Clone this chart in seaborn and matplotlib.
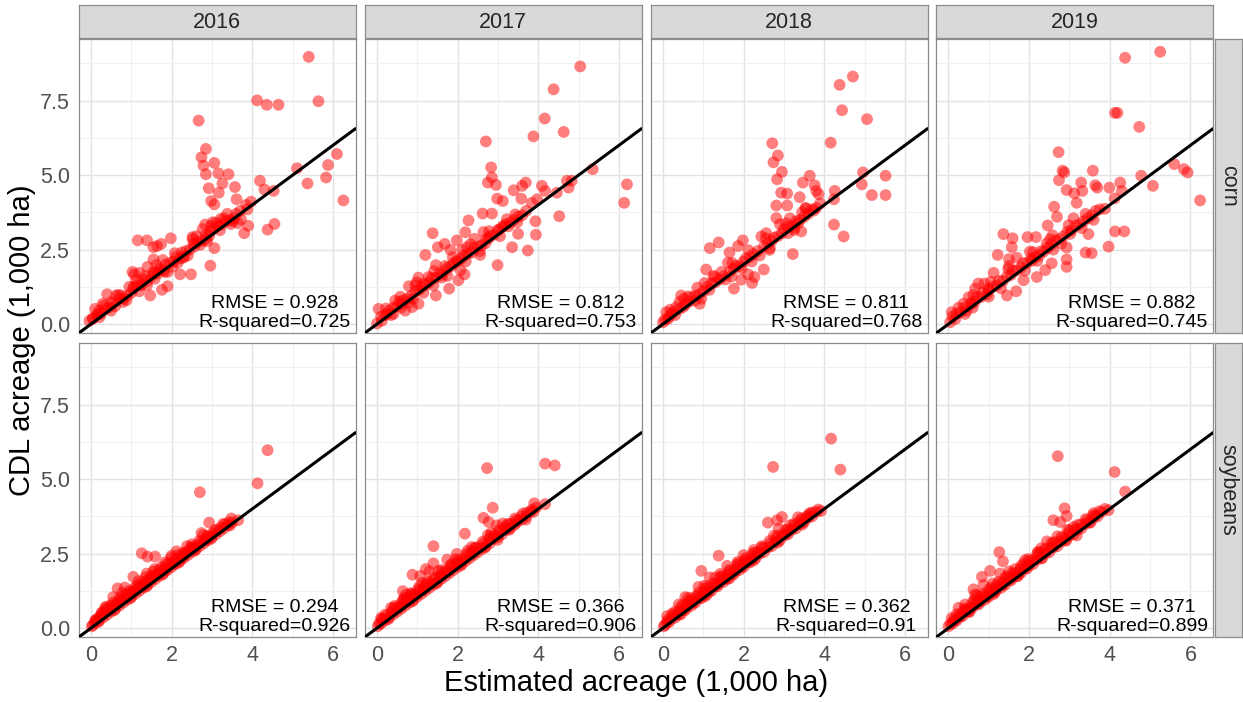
import matplotlib
matplotlib.use("Agg")
import matplotlib.pyplot as plt
import pandas as pd
import seaborn as sns

# ---------------- data ----------------
years = ["2016", "2017", "2018", "2019"]
crops = ["corn", "soybeans"]

rmse = {("corn", "2016"): "0.928", ("corn", "2017"): "0.812",
        ("corn", "2018"): "0.811", ("corn", "2019"): "0.882",
        ("soybeans", "2016"): "0.294", ("soybeans", "2017"): "0.366",
        ("soybeans", "2018"): "0.362", ("soybeans", "2019"): "0.371"}
rsq = {("corn", "2016"): "0.725", ("corn", "2017"): "0.753",
       ("corn", "2018"): "0.768", ("corn", "2019"): "0.745",
       ("soybeans", "2016"): "0.926", ("soybeans", "2017"): "0.906",
       ("soybeans", "2018"): "0.91", ("soybeans", "2019"): "0.899"}

corn_2016 = [
    (5.40, 8.97), (4.12, 7.51), (4.36, 7.36), (4.65, 7.36), (5.64, 7.48), (2.67, 6.83),
    (2.85, 5.88), (2.74, 5.60), (2.79, 5.32), (3.06, 5.41), (2.85, 5.03), (3.16, 5.06),
    (3.41, 5.03), (3.26, 4.72), (2.92, 4.56), (3.17, 4.41), (3.57, 4.60), (3.61, 4.19),
    (2.98, 4.13), (3.06, 4.02), (6.10, 5.71), (5.88, 5.34), (5.11, 5.23), (5.37, 4.72),
    (5.83, 4.92), (6.26, 4.15), (4.19, 4.81), (4.30, 4.52), (4.53, 4.47), (3.97, 4.11),
    (3.88, 3.85), (4.38, 3.17), (4.55, 3.36), (3.80, 3.05), (3.90, 3.30), (3.72, 3.51),
    (3.64, 3.39), (3.47, 3.36), (3.22, 3.53), (3.02, 3.42), (2.77, 3.19), (2.83, 3.34),
    (2.52, 2.85), (2.56, 2.60), (2.71, 2.66), (2.85, 2.85), (2.93, 2.96), (3.06, 2.55),
    (2.96, 1.96), (1.98, 2.88), (1.16, 2.81), (1.39, 2.81), (1.55, 2.58), (1.74, 2.69),
    (1.64, 2.62), (1.55, 2.17), (2.31, 2.26), (2.15, 2.06), (2.02, 1.92), (1.82, 1.75),
    (2.21, 1.67), (2.48, 1.67), (1.90, 1.27), (1.76, 1.15), (1.47, 0.96), (1.39, 1.30),
    (1.03, 1.75), (1.07, 1.67), (1.20, 1.72), (1.40, 1.92), (1.57, 1.70), (1.69, 1.81),
    (1.07, 1.27), (1.24, 1.30), (0.40, 1.00), (0.62, 0.96), (0.74, 0.96), (0.50, 0.74),
    (0.79, 0.74), (0.29, 0.68), (0.10, 0.51), (0.17, 0.34), (-0.04, 0.11), (0.04, 0.17),
    (0.21, 0.23),
    (0.05, 0.20), (0.15, 0.30), (0.25, 0.35), (0.35, 0.50), (0.45, 0.55), (0.55, 0.70),
    (0.60, 0.60), (0.70, 0.85), (0.80, 0.85), (0.90, 0.95), (1.00, 1.05), (1.05, 1.20),
    (1.15, 1.30), (1.25, 1.35), (1.30, 1.50), (1.40, 1.45), (1.50, 1.60), (1.55, 1.75),
    (1.65, 1.70), (1.70, 1.85), (1.80, 1.80), (1.85, 2.00), (1.95, 2.05), (2.05, 2.10),
    (2.10, 2.25), (2.20, 2.20), (2.25, 2.40), (2.35, 2.45), (2.45, 2.50), (2.55, 2.70),
    (2.65, 2.75), (2.75, 2.80), (2.85, 3.00), (2.95, 3.10), (3.05, 3.20), (3.15, 3.30),
    (3.25, 3.35), (3.35, 3.45), (3.45, 3.50), (3.55, 3.55), (3.60, 3.70), (3.30, 3.55),
    (3.10, 3.40), (2.40, 2.30), (1.90, 1.75), (1.20, 1.10), (0.95, 1.25), (0.50, 0.45),
    (3.70, 3.80), (3.85, 4.00),
    (0.32, 0.62), (0.68, 0.98), (1.12, 1.48), (1.62, 1.98), (2.08, 2.38), (2.52, 2.92),
    (2.98, 3.30), (3.38, 3.70), (0.88, 0.80), (1.58, 1.52), (2.28, 2.22), (2.88, 2.78),
    (3.20, 3.15), (3.52, 3.45), (0.20, 0.45), (1.35, 1.62), (1.78, 2.15), (2.62, 2.95),
]

corn_2017 = [
    (5.04, 8.65), (4.38, 7.88), (4.16, 6.90), (3.88, 6.30), (4.63, 6.45), (2.70, 6.13),
    (5.35, 5.20), (6.20, 4.69), (6.13, 4.07), (2.83, 5.26), (2.85, 4.92), (2.75, 4.75),
    (2.95, 4.67), (2.98, 4.21), (3.12, 4.13), (3.39, 4.49), (3.60, 4.64), (3.69, 4.75),
    (3.58, 4.21), (4.09, 4.64), (4.17, 4.47), (4.46, 4.41), (4.71, 4.81), (4.83, 4.81),
    (4.75, 4.58), (3.84, 4.07), (3.97, 4.19), (3.93, 3.45), (3.94, 3.00), (4.52, 3.62),
    (3.43, 3.68), (3.50, 3.03), (3.35, 2.58), (3.74, 2.47), (2.99, 1.98), (2.62, 3.71),
    (2.85, 3.71), (2.27, 3.48), (2.19, 3.08), (2.42, 2.86), (2.64, 3.09), (1.98, 2.81),
    (1.38, 3.05), (1.51, 2.58), (1.68, 2.69), (1.20, 2.32), (1.82, 2.49), (2.11, 2.49),
    (2.23, 2.58), (2.56, 2.32), (1.46, 1.98), (1.69, 1.95), (1.98, 2.13), (2.07, 1.81),
    (2.17, 1.67), (2.02, 1.47), (1.79, 1.19), (1.46, 0.96), (1.03, 1.56), (0.79, 1.27),
    (0.95, 1.30), (1.16, 1.36), (1.28, 1.58), (1.61, 1.56), (0.45, 0.79), (0.62, 0.68),
    (0.41, 0.34), (0.70, 0.45), (0.87, 0.57), (1.03, 0.68), (0.04, 0.51), (0.00, 0.02),
    (0.12, 0.11), (0.25, 0.34), (3.14, 3.30), (3.26, 3.28), (3.02, 3.17), (2.69, 2.71),
    (2.77, 2.88),
    (0.10, 0.25), (0.20, 0.30), (0.30, 0.45), (0.40, 0.55), (0.50, 0.60), (0.55, 0.75),
    (0.65, 0.80), (0.75, 0.85), (0.85, 0.95), (0.95, 1.10), (1.05, 1.15), (1.10, 1.25),
    (1.20, 1.30), (1.30, 1.40), (1.35, 1.55), (1.45, 1.55), (1.55, 1.70), (1.60, 1.65),
    (1.70, 1.80), (1.75, 1.90), (1.85, 1.95), (1.90, 2.05), (2.00, 2.10), (2.10, 2.20),
    (2.15, 2.30), (2.25, 2.35), (2.35, 2.40), (2.40, 2.55), (2.50, 2.60), (2.60, 2.65),
    (2.70, 2.85), (2.80, 2.95), (2.90, 3.00), (3.00, 3.15), (3.10, 3.25), (3.20, 3.35),
    (3.30, 3.40), (3.40, 3.50), (3.50, 3.60), (3.60, 3.65), (3.70, 3.80), (0.35, 0.30),
    (0.90, 0.85), (1.40, 1.30), (2.20, 2.10), (2.55, 2.45), (0.60, 0.55), (1.15, 1.05),
    (0.22, 0.52), (0.58, 0.92), (0.98, 1.40), (1.42, 1.78), (1.88, 2.25), (2.32, 2.68),
    (2.78, 3.12), (3.22, 3.52), (3.48, 3.42), (3.05, 2.95), (1.75, 1.62), (0.80, 0.72),
]

corn_2018 = [
    (4.71, 8.31), (4.38, 8.03), (4.44, 7.18), (5.06, 6.88), (4.16, 6.09), (2.71, 6.07),
    (2.85, 5.66), (2.74, 5.43), (2.95, 5.11), (2.83, 4.86), (3.47, 4.75), (3.64, 4.98),
    (3.76, 4.66), (3.80, 4.47), (3.86, 4.36), (2.93, 4.41), (3.08, 4.38), (3.39, 4.26),
    (4.26, 4.47), (4.24, 4.19), (4.96, 5.09), (4.93, 4.69), (5.52, 4.98), (5.18, 4.33),
    (5.52, 4.33), (2.81, 3.98), (3.08, 3.98), (3.53, 3.90), (3.74, 3.81), (2.81, 3.56),
    (4.24, 3.34), (4.48, 2.94), (3.22, 2.35), (1.16, 2.55), (1.38, 2.74), (1.86, 2.62),
    (1.98, 2.81), (1.65, 2.40), (1.61, 2.06), (1.07, 1.83), (1.03, 1.38), (1.76, 1.19),
    (2.11, 1.67), (2.27, 1.58), (2.50, 1.83), (2.21, 1.38), (1.94, 1.49), (2.64, 2.49),
    (2.56, 3.05), (2.44, 2.94), (3.10, 3.05), (3.26, 3.22), (3.43, 3.11), (3.35, 3.39),
    (0.45, 0.96), (0.62, 0.93), (0.79, 0.79), (0.91, 0.68), (0.41, 0.74), (0.08, 0.40),
    (0.21, 0.34), (0.12, 0.17), (0.00, 0.06), (0.33, 0.57), (0.50, 0.57), (1.28, 1.58),
    (1.45, 1.75),
    (0.05, 0.15), (0.15, 0.25), (0.25, 0.40), (0.30, 0.30), (0.40, 0.50), (0.55, 0.65),
    (0.65, 0.75), (0.70, 0.90), (0.80, 0.95), (0.90, 1.00), (1.00, 1.10), (1.10, 1.25),
    (1.15, 1.15), (1.20, 1.35), (1.30, 1.40), (1.40, 1.50), (1.50, 1.60), (1.55, 1.50),
    (1.65, 1.75), (1.75, 1.85), (1.80, 1.95), (1.90, 1.95), (2.00, 2.10), (2.05, 2.20),
    (2.15, 2.25), (2.25, 2.35), (2.35, 2.45), (2.40, 2.30), (2.50, 2.60), (2.60, 2.70),
    (2.70, 2.80), (2.75, 2.90), (2.85, 2.95), (2.95, 3.05), (3.00, 3.20), (3.10, 3.25),
    (3.20, 3.30), (3.30, 3.45), (3.40, 3.50), (3.50, 3.60), (3.60, 3.70), (3.70, 3.85),
    (3.80, 3.90), (3.90, 4.05), (1.70, 1.60), (2.20, 2.10), (0.95, 0.85), (3.15, 3.55),
    (2.90, 3.35), (3.45, 3.75),
    (0.18, 0.48), (0.52, 0.85), (0.85, 1.22), (1.25, 1.62), (1.72, 2.05), (2.12, 2.48),
    (2.55, 2.88), (3.05, 3.38), (3.55, 3.88), (3.25, 3.15), (2.65, 2.55), (1.95, 1.88),
]

corn_2019 = [
    (5.25, 9.14), (4.38, 8.94), (4.13, 7.09), (4.19, 7.09), (4.73, 6.62), (2.73, 5.77),
    (2.87, 5.09), (2.83, 5.15), (2.74, 4.83), (3.58, 5.15), (3.29, 4.75), (2.93, 4.50),
    (3.12, 4.39), (3.32, 4.47), (3.64, 4.66), (3.69, 4.58), (3.99, 4.58), (4.26, 4.75),
    (4.30, 4.47), (4.12, 4.22), (4.78, 4.98), (5.07, 4.64), (5.60, 5.37), (5.84, 5.20),
    (5.93, 5.09), (6.24, 4.15), (3.18, 4.07), (2.62, 3.94), (2.69, 3.60), (3.88, 3.87),
    (2.46, 3.31), (2.58, 2.98), (2.93, 2.57), (3.02, 3.03), (3.47, 3.02), (4.13, 3.11),
    (4.36, 3.11), (3.97, 2.60), (3.40, 2.40), (3.55, 2.38), (2.93, 2.17), (2.93, 1.92),
    (1.36, 3.02), (1.59, 2.88), (1.96, 2.92), (2.17, 2.92), (1.57, 2.58), (2.02, 2.43),
    (1.22, 2.32), (1.50, 2.18), (1.69, 2.23), (1.50, 1.95), (2.07, 2.13), (2.36, 2.43),
    (2.19, 1.58), (1.86, 1.47), (1.68, 1.10), (1.45, 0.96), (1.12, 1.72), (0.74, 1.36),
    (0.89, 1.36), (0.99, 1.19), (0.66, 1.19), (0.50, 0.90), (0.37, 0.68), (0.58, 0.68),
    (0.41, 0.34), (0.08, 0.40), (0.04, 0.06), (0.17, 0.17), (2.40, 1.81), (2.56, 2.04),
    (2.44, 2.71),
    (0.10, 0.25), (0.20, 0.35), (0.30, 0.40), (0.40, 0.55), (0.45, 0.45), (0.55, 0.70),
    (0.65, 0.75), (0.70, 0.90), (0.80, 0.90), (0.85, 1.05), (0.95, 1.00), (1.00, 1.15),
    (1.10, 1.25), (1.20, 1.30), (1.25, 1.45), (1.35, 1.45), (1.45, 1.60), (1.55, 1.65),
    (1.60, 1.80), (1.70, 1.80), (1.80, 1.90), (1.85, 2.05), (1.95, 2.05), (2.05, 2.20),
    (2.15, 2.25), (2.25, 2.30), (2.30, 2.45), (2.45, 2.55), (2.55, 2.65), (2.65, 2.80),
    (2.75, 2.85), (2.85, 2.95), (2.95, 3.10), (3.05, 3.15), (3.15, 3.30), (3.25, 3.35),
    (3.35, 3.45), (3.45, 3.55), (3.55, 3.65), (3.65, 3.80), (3.75, 3.85), (1.30, 1.20),
    (1.90, 1.80), (2.60, 2.50), (0.60, 0.55), (3.10, 3.55), (3.40, 3.70),
    (0.25, 0.55), (0.62, 0.98), (1.05, 1.42), (1.48, 1.85), (2.10, 2.42), (2.52, 2.85),
    (2.98, 3.32), (3.30, 3.22), (2.80, 2.70), (2.20, 2.12), (1.00, 0.92), (3.60, 3.50),
]

soy_2016 = [
    (4.38, 5.97), (4.13, 4.86), (2.70, 4.56), (2.93, 3.54), (3.65, 3.62), (3.45, 3.45),
    (2.74, 3.19), (2.50, 2.81), (1.26, 2.51), (1.40, 2.40), (1.59, 2.40), (2.12, 2.58),
    (2.00, 2.43), (1.84, 2.21), (1.38, 1.83), (1.05, 1.72), (0.66, 1.33), (0.84, 1.36),
    (0.55, 1.04), (0.35, 0.68), (0.26, 0.51), (0.10, 0.23), (0.02, 0.06),
    (0.05, 0.10), (0.10, 0.20), (0.20, 0.25), (0.25, 0.40), (0.30, 0.35), (0.40, 0.45),
    (0.45, 0.60), (0.50, 0.55), (0.60, 0.65), (0.65, 0.80), (0.70, 0.75), (0.80, 0.85),
    (0.85, 1.00), (0.90, 0.95), (1.00, 1.05), (1.05, 1.20), (1.10, 1.15), (1.20, 1.25),
    (1.25, 1.40), (1.30, 1.35), (1.40, 1.45), (1.45, 1.60), (1.50, 1.55), (1.60, 1.65),
    (1.65, 1.80), (1.70, 1.75), (1.80, 1.85), (1.85, 1.95), (1.90, 1.95), (2.00, 2.05),
    (2.05, 2.15), (2.10, 2.15), (2.20, 2.25), (2.25, 2.35), (2.30, 2.35), (2.40, 2.45),
    (2.50, 2.55), (2.55, 2.65), (2.60, 2.65), (2.70, 2.75), (2.80, 2.85), (2.85, 2.95),
    (2.90, 2.95), (3.00, 3.05), (3.10, 3.15), (3.20, 3.25), (3.30, 3.35), (3.40, 3.45),
    (3.50, 3.55), (0.35, 0.60), (0.55, 0.85), (0.75, 1.05), (0.95, 1.25), (1.15, 1.45),
    (1.35, 1.70), (1.55, 1.90), (1.75, 2.05), (2.15, 2.45), (2.35, 2.55), (0.15, 0.30),
    (0.12, 0.28), (0.22, 0.38), (0.32, 0.50), (0.42, 0.62), (0.52, 0.72), (0.62, 0.80),
    (0.72, 0.92), (0.82, 1.00), (0.92, 1.12), (1.02, 1.22), (1.12, 1.30), (1.22, 1.42),
    (1.32, 1.50), (1.42, 1.62), (1.52, 1.72), (1.62, 1.80), (1.72, 1.90), (1.82, 2.00),
    (1.92, 2.12), (2.02, 2.20), (2.12, 2.30), (2.22, 2.40), (2.32, 2.48), (2.42, 2.60),
    (2.52, 2.70), (2.62, 2.78), (2.72, 2.88), (2.82, 2.98), (2.92, 3.08), (3.02, 3.18),
    (3.12, 3.28), (3.22, 3.38), (3.32, 3.48), (3.42, 3.55), (0.18, 0.20), (0.58, 0.60),
    (0.98, 1.00), (1.38, 1.40), (1.78, 1.80), (2.18, 2.20), (2.58, 2.60), (2.98, 3.00),
    (0.28, 0.52), (0.48, 0.75), (0.68, 0.95), (0.88, 1.15), (1.08, 1.35), (1.28, 1.55),
    (1.48, 1.75), (1.68, 1.95), (1.88, 2.15), (2.08, 2.32), (2.28, 2.52), (2.48, 2.72),
    (2.68, 2.92), (2.88, 3.10), (3.08, 3.30), (3.28, 3.50), (3.48, 3.68), (0.78, 1.18),
    (1.18, 1.58), (1.58, 1.98), (1.98, 2.35), (2.38, 2.75), (0.38, 0.72), (2.78, 3.12),
]

soy_2017 = [
    (4.17, 5.52), (4.41, 5.46), (2.73, 5.37), (3.90, 4.19), (4.17, 4.16), (2.87, 4.04),
    (2.64, 3.70), (2.77, 3.56), (2.97, 3.45), (3.12, 3.51), (2.83, 3.19), (3.45, 3.53),
    (3.69, 3.64), (2.99, 2.96), (2.18, 3.17), (1.40, 2.75), (2.25, 2.60), (1.98, 2.49),
    (1.74, 2.30), (1.40, 2.17), (1.21, 1.98), (1.30, 1.90), (0.88, 1.79), (1.07, 1.75),
    (0.64, 1.24), (0.84, 1.17), (0.68, 1.02), (0.35, 0.68), (0.10, 0.34), (0.02, 0.06),
    (0.05, 0.15), (0.10, 0.15), (0.15, 0.30), (0.20, 0.25), (0.30, 0.35), (0.35, 0.50),
    (0.40, 0.45), (0.50, 0.55), (0.55, 0.70), (0.60, 0.65), (0.70, 0.75), (0.75, 0.90),
    (0.80, 0.85), (0.90, 0.95), (0.95, 1.10), (1.00, 1.05), (1.10, 1.15), (1.15, 1.30),
    (1.20, 1.25), (1.30, 1.35), (1.35, 1.50), (1.40, 1.45), (1.50, 1.55), (1.55, 1.70),
    (1.60, 1.65), (1.70, 1.75), (1.75, 1.90), (1.80, 1.85), (1.90, 1.95), (2.00, 2.05),
    (2.05, 2.20), (2.10, 2.15), (2.20, 2.25), (2.30, 2.35), (2.35, 2.50), (2.40, 2.45),
    (2.50, 2.55), (2.60, 2.65), (2.70, 2.75), (2.80, 2.85), (2.90, 3.00), (3.00, 3.05),
    (3.10, 3.15), (3.20, 3.30), (3.30, 3.35), (3.40, 3.45), (3.50, 3.60), (3.60, 3.65),
    (3.70, 3.75), (3.80, 3.90), (3.95, 4.05), (0.45, 0.75), (0.65, 0.95), (0.85, 1.15),
    (1.05, 1.40), (1.25, 1.55), (1.60, 1.95), (1.85, 2.15), (2.45, 2.70), (3.25, 3.50),
    (0.12, 0.30), (0.25, 0.42), (0.38, 0.58), (0.52, 0.70), (0.65, 0.85), (0.78, 0.98),
    (0.92, 1.12), (1.05, 1.25), (1.18, 1.38), (1.32, 1.52), (1.45, 1.65), (1.58, 1.78),
    (1.72, 1.92), (1.85, 2.05), (1.98, 2.18), (2.12, 2.32), (2.25, 2.45), (2.38, 2.58),
    (2.52, 2.72), (2.65, 2.85), (2.78, 2.98), (2.92, 3.10), (3.05, 3.25), (3.18, 3.38),
    (3.32, 3.50), (3.45, 3.62), (3.58, 3.75), (3.72, 3.88), (3.85, 3.98), (0.28, 0.30),
    (0.88, 0.90), (1.48, 1.50), (2.08, 2.10), (2.68, 2.70), (3.28, 3.30), (3.88, 3.90),
    (0.20, 0.45), (0.42, 0.68), (0.62, 0.88), (0.82, 1.08), (1.02, 1.30), (1.22, 1.48),
    (1.42, 1.70), (1.62, 1.88), (1.82, 2.10), (2.02, 2.28), (2.22, 2.50), (2.42, 2.68),
    (2.62, 2.90), (2.82, 3.08), (3.02, 3.30), (3.22, 3.45), (3.42, 3.68), (3.62, 3.85),
    (0.72, 1.12), (1.12, 1.52), (1.52, 1.92), (1.95, 2.32), (2.35, 2.72), (2.75, 3.12),
]

soy_2018 = [
    (4.17, 6.36), (2.73, 5.41), (4.40, 5.32), (2.95, 3.73), (2.83, 3.62), (2.60, 3.54),
    (2.87, 3.34), (3.07, 3.19), (3.61, 3.79), (3.92, 3.93), (1.38, 2.43), (2.00, 2.45),
    (1.59, 2.09), (1.86, 2.17), (0.95, 1.92), (1.16, 1.70), (1.30, 1.70), (0.88, 1.38),
    (0.55, 1.04), (0.39, 0.79), (0.10, 0.40), (0.02, 0.06), (2.29, 2.53),
    (0.05, 0.10), (0.10, 0.20), (0.15, 0.20), (0.20, 0.30), (0.30, 0.35), (0.35, 0.45),
    (0.40, 0.45), (0.50, 0.60), (0.55, 0.60), (0.60, 0.70), (0.70, 0.75), (0.75, 0.85),
    (0.80, 0.85), (0.90, 1.00), (0.95, 1.00), (1.00, 1.10), (1.10, 1.15), (1.15, 1.25),
    (1.20, 1.25), (1.30, 1.40), (1.35, 1.40), (1.40, 1.50), (1.50, 1.55), (1.55, 1.65),
    (1.60, 1.65), (1.70, 1.80), (1.75, 1.80), (1.80, 1.90), (1.90, 1.95), (1.95, 2.05),
    (2.00, 2.05), (2.10, 2.20), (2.15, 2.20), (2.20, 2.30), (2.30, 2.35), (2.40, 2.50),
    (2.50, 2.55), (2.60, 2.70), (2.70, 2.75), (2.80, 2.90), (2.90, 2.95), (3.00, 3.10),
    (3.10, 3.15), (3.20, 3.30), (3.30, 3.35), (3.40, 3.50), (3.50, 3.55), (3.60, 3.70),
    (3.70, 3.75), (3.80, 3.90), (0.30, 0.55), (0.50, 0.80), (0.70, 1.00), (0.90, 1.20),
    (1.10, 1.40), (1.45, 1.75), (1.65, 1.95), (2.05, 2.35), (2.45, 2.75), (2.75, 3.10),
    (3.15, 3.45),
    (0.12, 0.28), (0.26, 0.45), (0.42, 0.60), (0.58, 0.76), (0.72, 0.92), (0.86, 1.06),
    (1.02, 1.20), (1.16, 1.35), (1.30, 1.50), (1.46, 1.64), (1.60, 1.80), (1.76, 1.94),
    (1.90, 2.10), (2.06, 2.24), (2.20, 2.40), (2.36, 2.54), (2.50, 2.70), (2.66, 2.84),
    (2.80, 3.00), (2.96, 3.14), (3.10, 3.30), (3.26, 3.44), (3.40, 3.60), (3.56, 3.74),
    (3.70, 3.88), (3.85, 3.98), (0.45, 0.47), (1.05, 1.07), (1.65, 1.67), (2.25, 2.27),
    (2.85, 2.87), (3.45, 3.47),
    (0.22, 0.48), (0.44, 0.70), (0.64, 0.90), (0.84, 1.10), (1.04, 1.32), (1.24, 1.50),
    (1.44, 1.72), (1.64, 1.90), (1.84, 2.12), (2.04, 2.30), (2.24, 2.52), (2.44, 2.70),
    (2.64, 2.92), (2.84, 3.10), (3.04, 3.30), (3.24, 3.50), (3.44, 3.68), (3.64, 3.86),
    (0.62, 1.02), (1.02, 1.42), (1.42, 1.82), (1.85, 2.22), (2.25, 2.62), (3.35, 3.72),
]

soy_2019 = [
    (2.71, 5.77), (4.12, 5.24), (4.38, 4.58), (2.88, 4.02), (2.93, 3.76), (2.60, 3.62),
    (2.77, 3.56), (3.10, 3.39), (3.97, 3.96), (3.64, 3.79), (2.44, 2.91), (3.18, 3.11),
    (1.26, 2.55), (1.35, 2.24), (1.98, 2.32), (2.21, 2.55), (1.03, 1.92), (1.28, 1.83),
    (0.83, 1.72), (0.87, 1.45), (0.62, 1.30), (0.66, 1.13), (1.65, 1.98), (0.41, 0.79),
    (0.25, 0.68), (0.08, 0.34), (0.00, 0.06),
    (0.05, 0.15), (0.10, 0.15), (0.15, 0.25), (0.20, 0.25), (0.25, 0.35), (0.30, 0.40),
    (0.35, 0.40), (0.45, 0.55), (0.50, 0.55), (0.55, 0.65), (0.60, 0.70), (0.70, 0.80),
    (0.75, 0.80), (0.80, 0.90), (0.90, 0.95), (0.95, 1.05), (1.00, 1.05), (1.10, 1.20),
    (1.15, 1.20), (1.20, 1.30), (1.30, 1.35), (1.35, 1.45), (1.40, 1.45), (1.50, 1.60),
    (1.55, 1.60), (1.60, 1.70), (1.70, 1.75), (1.75, 1.85), (1.80, 1.85), (1.90, 2.00),
    (1.95, 2.00), (2.00, 2.10), (2.10, 2.15), (2.20, 2.30), (2.30, 2.35), (2.40, 2.50),
    (2.50, 2.55), (2.60, 2.70), (2.70, 2.75), (2.80, 2.90), (2.90, 2.95), (3.00, 3.10),
    (3.10, 3.15), (3.20, 3.30), (3.30, 3.35), (3.40, 3.50), (3.50, 3.55), (3.60, 3.70),
    (3.70, 3.75), (3.80, 3.90), (0.40, 0.60), (0.65, 0.95), (0.85, 1.15), (1.05, 1.35),
    (1.25, 1.55), (1.45, 1.75), (1.85, 2.15), (2.25, 2.55), (2.55, 2.85), (2.95, 3.30),
    (0.14, 0.30), (0.28, 0.48), (0.44, 0.62), (0.58, 0.78), (0.74, 0.92), (0.88, 1.08),
    (1.04, 1.22), (1.18, 1.38), (1.34, 1.52), (1.48, 1.68), (1.64, 1.82), (1.78, 1.98),
    (1.94, 2.12), (2.08, 2.28), (2.24, 2.42), (2.38, 2.58), (2.54, 2.72), (2.68, 2.88),
    (2.84, 3.02), (2.98, 3.18), (3.14, 3.32), (3.28, 3.48), (3.44, 3.62), (3.58, 3.78),
    (3.74, 3.92), (3.88, 4.00), (0.52, 0.54), (1.12, 1.14), (1.72, 1.74), (2.32, 2.34),
    (2.92, 2.94), (3.52, 3.54),
    (0.20, 0.46), (0.40, 0.66), (0.60, 0.88), (0.80, 1.06), (1.00, 1.28), (1.20, 1.46),
    (1.40, 1.68), (1.60, 1.86), (1.80, 2.08), (2.00, 2.26), (2.20, 2.48), (2.40, 2.66),
    (2.60, 2.88), (2.80, 3.06), (3.00, 3.28), (3.20, 3.46), (3.40, 3.66), (3.60, 3.86),
    (0.70, 1.10), (1.10, 1.50), (1.50, 1.90), (1.90, 2.28), (2.30, 2.68), (2.70, 3.08),
]

panels = {("corn", "2016"): corn_2016, ("corn", "2017"): corn_2017,
          ("corn", "2018"): corn_2018, ("corn", "2019"): corn_2019,
          ("soybeans", "2016"): soy_2016, ("soybeans", "2017"): soy_2017,
          ("soybeans", "2018"): soy_2018, ("soybeans", "2019"): soy_2019}

rows = []
for (crop, yr), pts in panels.items():
    for x, y in pts:
        rows.append({"crop": crop, "year": yr, "est": x, "cdl": y})
df = pd.DataFrame(rows)

# ---------------- styling ----------------
sns.set_theme(style="white")
plt.rcParams["font.family"] = ["Liberation Sans", "DejaVu Sans"]

W, H = 1243, 702
fig = plt.figure(figsize=(W / 100, H / 100), dpi=100)
fig.patch.set_facecolor("white")

lefts = [78.5, 364.5, 650.5, 936.0]
pw = 277.0
tops = [39.0, 343.0]
ph = 294.0
xlim = (-0.31, 6.56)
ylim = (-0.30, 9.57)
grid_major = "#E3E3E3"
grid_minor = "#F0F0F0"
border = "#8C8C8C"
strip_bg = "#D9D9D9"
tick_col = "#505050"

for r, crop in enumerate(crops):
    for c, yr in enumerate(years):
        ax = fig.add_axes([lefts[c] / W, 1 - (tops[r] + ph) / H, pw / W, ph / H])
        sub = df[(df.crop == crop) & (df.year == yr)]
        sns.scatterplot(data=sub, x="est", y="cdl", ax=ax, color="#FF0000",
                        alpha=0.5, s=72, edgecolor="none", linewidth=0, zorder=3,
                        legend=False)
        ax.axline((0, 0), (1, 1), color="black", lw=2.2, zorder=4)
        ax.set_xlim(*xlim)
        ax.set_ylim(*ylim)
        ax.set_xticks([0, 2, 4, 6])
        ax.set_yticks([0, 2.5, 5.0, 7.5])
        ax.set_xticks([1, 3, 5], minor=True)
        ax.set_yticks([1.25, 3.75, 6.25, 8.75], minor=True)
        ax.grid(True, which="major", color=grid_major, lw=1.0, zorder=0)
        ax.grid(True, which="minor", color=grid_minor, lw=0.8, zorder=0)
        ax.set_axisbelow(True)
        for sp in ax.spines.values():
            sp.set_color(border)
            sp.set_linewidth(0.9)
            sp.set_visible(True)
        ax.set_xlabel("")
        ax.set_ylabel("")
        ax.tick_params(which="minor", length=0)
        ax.tick_params(which="major", length=4, width=0.8, color="#555555",
                       labelsize=15.5, labelcolor=tick_col, pad=2)
        if c == 0:
            ax.set_yticklabels(["0.0", "2.5", "5.0", "7.5"])
        else:
            ax.tick_params(axis="y", length=0, labelleft=False)
        if r == 1:
            ax.set_xticklabels(["0", "2", "4", "6"])
        else:
            ax.tick_params(axis="x", length=0, labelbottom=False)

        ax.text(4.55, 0.54, f"RMSE = {rmse[(crop, yr)]}", ha="center",
                va="baseline", fontsize=14, color="black", zorder=6)
        ax.text(4.55, -0.09, f"R-squared={rsq[(crop, yr)]}", ha="center",
                va="baseline", fontsize=14, color="black", zorder=6)

        # column strips
        if r == 0:
            sax = fig.add_axes([lefts[c] / W, 1 - 38.0 / H, pw / W, 33.0 / H])
            sax.set_facecolor(strip_bg)
            sax.set_xticks([]); sax.set_yticks([])
            for sp in sax.spines.values():
                sp.set_color(border); sp.set_linewidth(0.9)
            sax.text(0.5, 0.48, yr, ha="center", va="center", fontsize=15.5,
                     color="#262626", transform=sax.transAxes)
        # row strips
        if c == 3:
            rax = fig.add_axes([1214.5 / W, 1 - (tops[r] + ph) / H, 27.5 / W, ph / H])
            rax.set_facecolor(strip_bg)
            rax.set_xticks([]); rax.set_yticks([])
            for sp in rax.spines.values():
                sp.set_color(border); sp.set_linewidth(0.9)
            rax.text(0.5, 0.5, crop, ha="center", va="center", fontsize=15.5,
                     color="#262626", rotation=-90, transform=rax.transAxes)

fig.text(636 / W, 1 - 683 / H, "Estimated acreage (1,000 ha)", ha="center",
         va="center", fontsize=21, color="black")
fig.text(22 / W, 1 - 340 / H, "CDL acreage (1,000 ha)", ha="center",
         va="center", fontsize=21, color="black", rotation=90)

fig.savefig("out.png", dpi=100, facecolor="white")
